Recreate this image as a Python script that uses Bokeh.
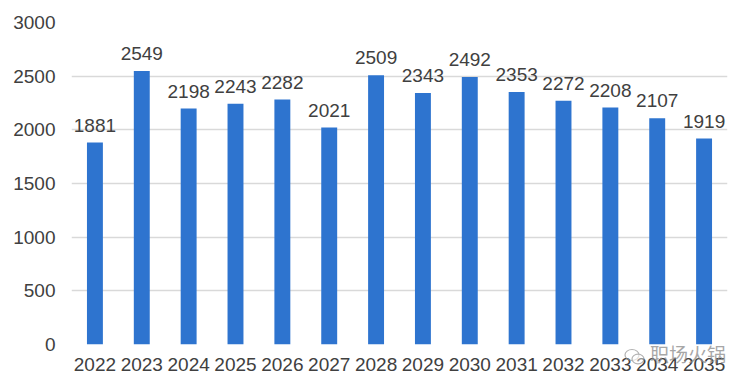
from bokeh.plotting import figure
from bokeh.models import ColumnDataSource, Range1d, FactorRange, SingleIntervalTicker, Div
from bokeh.layouts import column
from bokeh.embed import file_html
from bokeh.resources import INLINE
from bokeh.core.properties import value

years = ["2022", "2023", "2024", "2025", "2026", "2027", "2028",
         "2029", "2030", "2031", "2032", "2033", "2034", "2035"]
counts = [1881, 2549, 2198, 2243, 2282, 2021, 2509,
          2343, 2492, 2353, 2272, 2208, 2107, 1919]
labels = [str(v) for v in counts]
watermark = "职场火锅"

src = ColumnDataSource(dict(x=years, top=counts, label=labels))

FONT = "Liberation Sans"
TXT = "#404040"

p = figure(width=742, height=382, output_backend="svg", toolbar_location=None,
           x_range=FactorRange(factors=years, range_padding=0),
           y_range=Range1d(0, 3000),
           min_border_left=71, min_border_right=15, min_border_top=22, min_border_bottom=38)
p.outline_line_color = None
p.background_fill_color = "white"
p.border_fill_color = "white"

p.vbar(x="x", top="top", width=0.34, source=src, fill_color="#2e74cf", line_color=None)
p.text(x="x", y="top", text="label", source=src, text_align="center",
       text_baseline="bottom", y_offset=-11, text_font=value(FONT),
       text_font_size="19px", text_color=TXT)

p.yaxis.ticker = SingleIntervalTicker(interval=500)
p.ygrid.ticker = SingleIntervalTicker(interval=500)
p.ygrid.grid_line_color = "#d9d9d9"
p.ygrid.grid_line_width = 1.5
p.xgrid.grid_line_color = None

for ax in (p.xaxis[0], p.yaxis[0]):
    ax.axis_line_color = None
    ax.major_tick_line_color = None
    ax.minor_tick_line_color = None
    ax.major_label_text_font = FONT
    ax.major_label_text_font_size = "19px"
    ax.major_label_text_color = TXT
p.yaxis.major_label_standoff = 10
p.xaxis.major_label_standoff = 7

icon = ('<svg width="22" height="18" viewBox="0 0 22 18" style="vertical-align:middle;margin-right:4px">'
        '<ellipse cx="8" cy="7" rx="7" ry="5.5" fill="none" stroke="#999" stroke-width="1.2"/>'
        '<ellipse cx="14" cy="11" rx="6" ry="4.8" fill="white" fill-opacity="0.6" stroke="#999" stroke-width="1.2"/>'
        '</svg>')
div = Div(text=icon + '<span>' + watermark + '</span>', width=130, height=24,
          styles={"margin-top": "-42px", "margin-left": "624px", "color": "#8a8a8a",
                  "font-size": "19px", "font-family": "Noto Sans CJK SC", "opacity": "0.75",
                  "white-space": "nowrap"})

layout = column(p, div, spacing=0)
open("out.html", "w").write(file_html(layout, INLINE))
